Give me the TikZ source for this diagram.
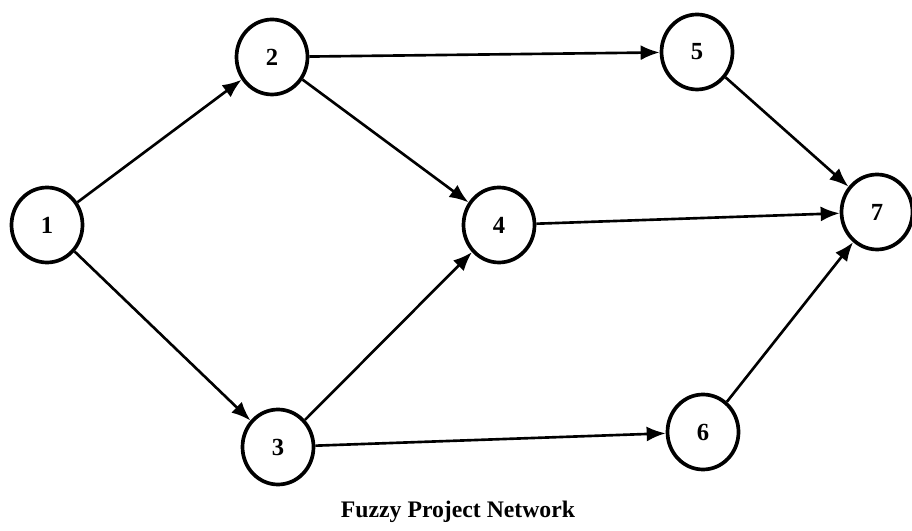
\documentclass[tikz,border=0pt]{standalone}
\usepackage{fontspec}
\setmainfont{Liberation Serif}
\usepackage{tikz}
\usetikzlibrary{arrows.meta, shapes.geometric}

\tikzset{
  event/.style={draw, ellipse, line width=2.1pt, minimum width=14.2mm, minimum height=15mm,
    inner sep=0pt, font=\fontsize{14}{16}\selectfont\bfseries},
  act/.style={line width=1.5pt, -{Latex[length=3.8mm, width=3mm]}}
}

\begin{document}
\begin{tikzpicture}[x=0.2mm,y=-0.2mm]
    \useasboundingbox (0,0) rectangle (912,531);

    \node[event] (n1) at (47,225) {1};
    \node[event] (n2) at (272,57) {2};
    \node[event] (n3) at (278,447) {3};
    \node[event] (n4) at (499,225) {4};
    \node[event] (n5) at (697,52) {5};
    \node[event] (n6) at (703,432) {6};
    \node[event] (n7) at (877,212) {7};

    \draw[act] (n1) -- (n2);
    \draw[act] (n1) -- (n3);
    \draw[act] (n2) -- (n5);
    \draw[act] (n2) -- (n4);
    \draw[act] (n3) -- (n4);
    \draw[act] (n3) -- (n6);
    \draw[act] (n4) -- (n7);
    \draw[act] (n5) -- (n7);
    \draw[act] (n6) -- (n7);

    \node[font=\fontsize{13.5}{15}\selectfont\bfseries] (title) at (458,512) {Fuzzy Project Network};
\end{tikzpicture}
\end{document}
